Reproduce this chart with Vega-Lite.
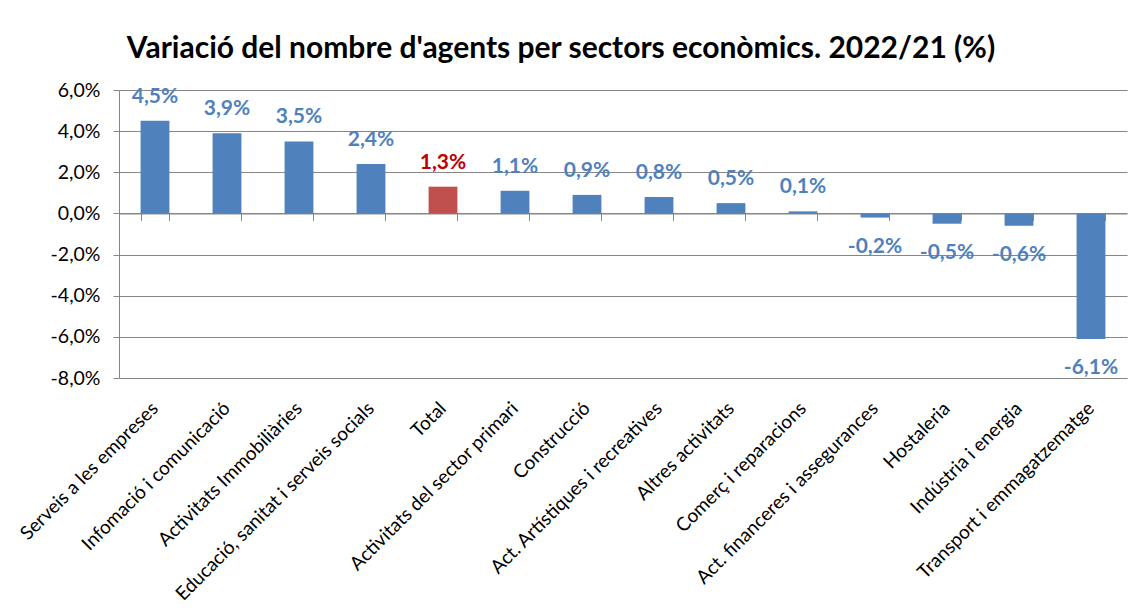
{
  "$schema": "https://vega.github.io/schema/vega-lite/v6.json",
  "width": 1008,
  "height": 288,
  "autosize": {"type": "none"},
  "padding": {"left": 119, "top": 90, "right": 2, "bottom": 230},
  "background": "white",
  "config": {
    "locale": {"number": {"decimal": ",", "thousands": ".", "grouping": [3], "currency": ["", " €"], "minus": "-"}},
    "view": {"stroke": null},
    "font": "Lato"
  },
  "title": {
    "text": "Variació del nombre d'agents per sectors econòmics. 2022/21 (%)",
    "fontSize": 30,
    "fontWeight": "bold",
    "color": "#000000",
    "anchor": "middle",
    "dx": -62,
    "offset": -8,
    "baseline": "alphabetic"
  },
  "data": {
    "values": [
      {"sector": "Serveis a les empreses", "value": 0.045},
      {"sector": "Infomació i comunicació", "value": 0.039},
      {"sector": "Activitats Immobiliàries", "value": 0.035},
      {"sector": "Educació, sanitat i serveis socials", "value": 0.024},
      {"sector": "Total", "value": 0.013},
      {"sector": "Activitats del sector primari", "value": 0.011},
      {"sector": "Construcció", "value": 0.009},
      {"sector": "Act. Artístiques i recreatives", "value": 0.008},
      {"sector": "Altres activitats", "value": 0.005},
      {"sector": "Comerç i reparacions", "value": 0.001},
      {"sector": "Act. financeres i assegurances", "value": -0.002},
      {"sector": "Hostaleria", "value": -0.005},
      {"sector": "Indústria i energia", "value": -0.006},
      {"sector": "Transport i emmagatzematge", "value": -0.061}
    ]
  },
  "encoding": {
    "y": {
      "field": "value",
      "type": "quantitative",
      "scale": {"domain": [-0.08, 0.06], "nice": false, "zero": true},
      "axis": {
        "title": null,
        "values": [-0.08, -0.06, -0.04, -0.02, 0, 0.02, 0.04, 0.06],
        "format": ".1%",
        "labelFontSize": 19.5,
        "labelColor": "#000000",
        "labelPadding": 13,
        "tickSize": 6,
        "tickColor": "#868686",
        "domainColor": "#868686",
        "gridColor": "#868686",
        "gridWidth": 1.2,
        "grid": true
      }
    }
  },
  "layer": [
    {
      "mark": {"type": "bar"},
      "encoding": {
        "x": {
          "field": "sector",
          "type": "nominal",
          "sort": null,
          "scale": {"paddingInner": 0.6, "paddingOuter": 0.3},
          "axis": {
            "title": null,
            "orient": "bottom",
            "labelAngle": -45,
            "labelAlign": "right",
            "labelBaseline": "middle",
            "labelFontSize": 19,
            "labelColor": "#000000",
            "labelPadding": 27,
            "labelLimit": 500,
            "ticks": false,
            "domain": false
          }
        },
        "color": {
          "condition": {"test": "datum.sector === 'Total'", "value": "#C0504D"},
          "value": "#4F81BD"
        }
      }
    },
    {
      "transform": [{"filter": "datum.value >= 0"}],
      "mark": {"type": "text", "fontSize": 21, "fontWeight": "bold", "baseline": "alphabetic", "dy": -18},
      "encoding": {
        "x": {
          "field": "sector",
          "type": "nominal",
          "sort": null,
          "axis": {
            "title": null,
            "orient": "bottom",
            "offset": -164.6,
            "labels": false,
            "ticks": true,
            "tickBand": "extent",
            "tickSize": 7,
            "tickColor": "#868686",
            "domain": true,
            "domainColor": "#868686",
            "domainWidth": 1.2
          }
        },
        "text": {"field": "value", "type": "quantitative", "format": ".1%"},
        "color": {
          "condition": {"test": "datum.sector === 'Total'", "value": "#C00000"},
          "value": "#4F81BD"
        }
      }
    },
    {
      "transform": [{"filter": "datum.value < 0"}],
      "mark": {"type": "text", "fontSize": 21, "fontWeight": "bold", "baseline": "alphabetic", "dy": 35, "color": "#4F81BD"},
      "encoding": {
        "x": {"field": "sector", "type": "nominal", "sort": null, "axis": null},
        "text": {"field": "value", "type": "quantitative", "format": ".1%"}
      }
    }
  ],
  "resolve": {"axis": {"x": "independent"}}
}
